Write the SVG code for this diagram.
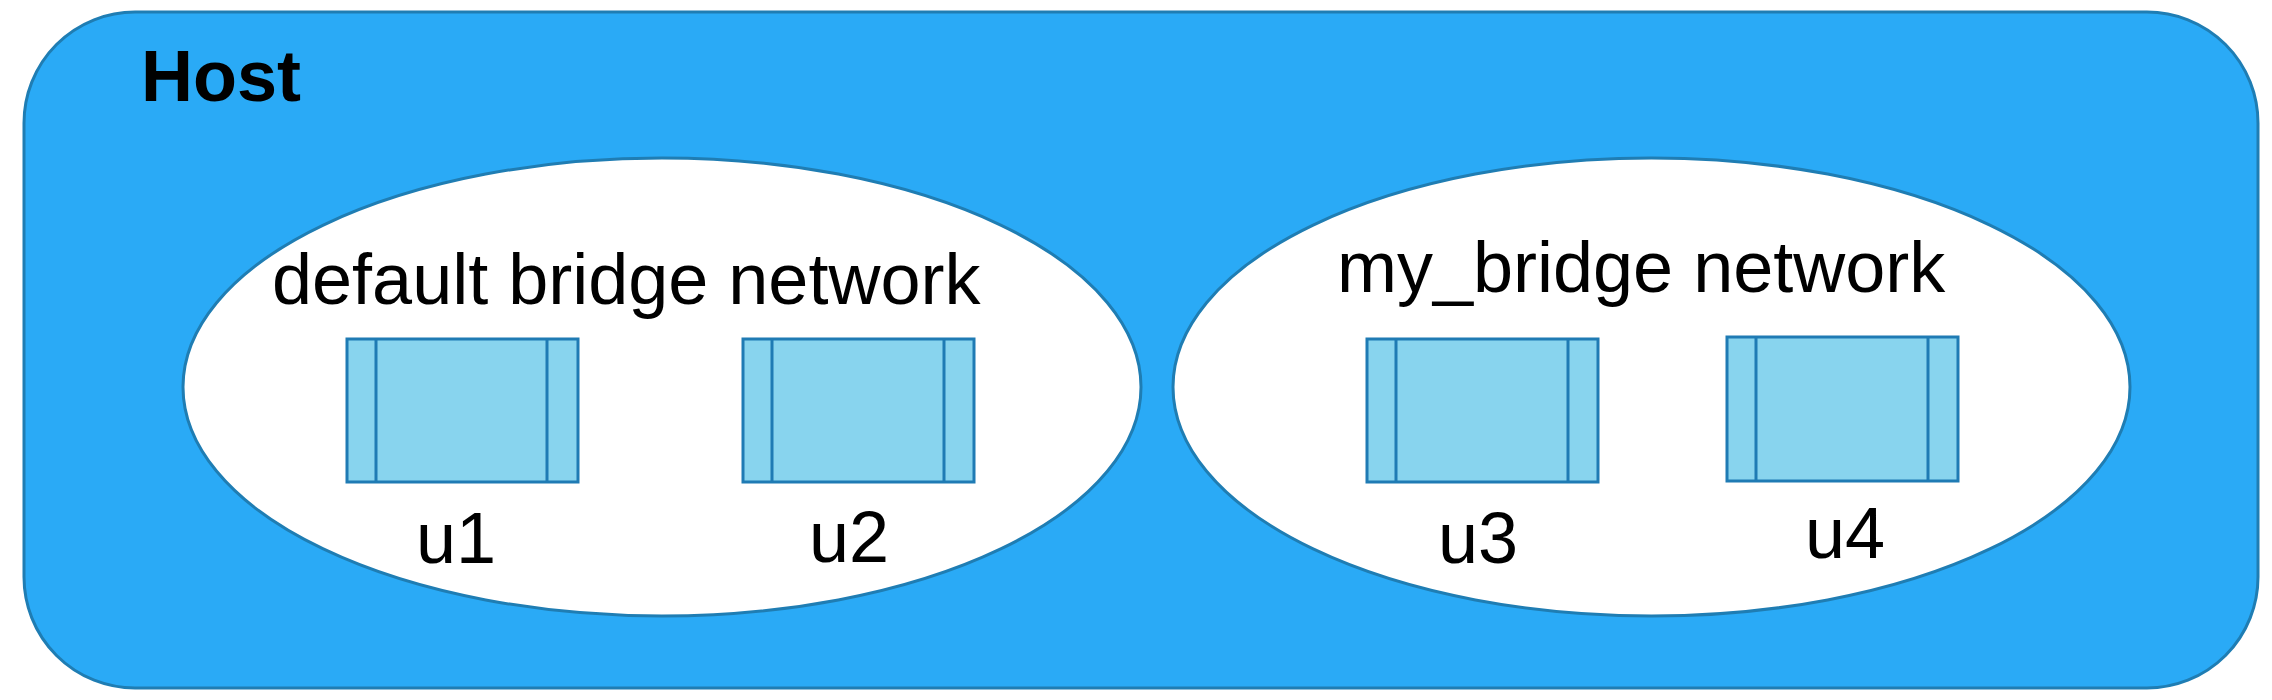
<svg xmlns="http://www.w3.org/2000/svg" width="2272" height="700" viewBox="0 0 2272 700">
<style>
.host{fill:#2aaaf6;stroke:#1f7db3;stroke-width:3}
.net{fill:#ffffff;stroke:#1f7db3;stroke-width:3}
.box{fill:#88d4ee;stroke:#1f7bb4;stroke-width:3}
.sep{stroke:#1f7bb4;stroke-width:3}
.lbl{font-family:"Liberation Sans",Arial,sans-serif;font-size:72px;fill:#000000}
.title{font-family:"Liberation Sans",Arial,sans-serif;font-size:72px;font-weight:bold;fill:#000000}
</style>
<rect width="2272" height="700" fill="#ffffff"/>
<g id="host">
<rect class="host" x="24" y="12" width="2234" height="676" rx="111" ry="111"/>
<text class="title" x="141" y="101">Host</text>
</g>
<g id="default-bridge">
<ellipse class="net" cx="662" cy="387" rx="479" ry="229"/>
<text class="lbl" x="272" y="304">default bridge network</text>
</g>
<g id="my-bridge">
<ellipse class="net" cx="1651.5" cy="387" rx="478.5" ry="229"/>
<text class="lbl" x="1337" y="292">my_bridge network</text>
</g>
<g id="u1">
<rect class="box" x="347" y="339" width="231" height="143"/>
<line class="sep" x1="376" y1="339" x2="376" y2="482"/>
<line class="sep" x1="547" y1="339" x2="547" y2="482"/>
<text class="lbl" x="456" y="563" text-anchor="middle">u1</text>
</g>
<g id="u2">
<rect class="box" x="743" y="339" width="231" height="143"/>
<line class="sep" x1="772" y1="339" x2="772" y2="482"/>
<line class="sep" x1="944" y1="339" x2="944" y2="482"/>
<text class="lbl" x="849" y="562" text-anchor="middle">u2</text>
</g>
<g id="u3">
<rect class="box" x="1367" y="339" width="231" height="143"/>
<line class="sep" x1="1396" y1="339" x2="1396" y2="482"/>
<line class="sep" x1="1568" y1="339" x2="1568" y2="482"/>
<text class="lbl" x="1478" y="563" text-anchor="middle">u3</text>
</g>
<g id="u4">
<rect class="box" x="1727" y="337" width="231" height="144"/>
<line class="sep" x1="1756" y1="337" x2="1756" y2="481"/>
<line class="sep" x1="1928" y1="337" x2="1928" y2="481"/>
<text class="lbl" x="1845" y="558" text-anchor="middle">u4</text>
</g>
<g id="connectors"/>
</svg>
